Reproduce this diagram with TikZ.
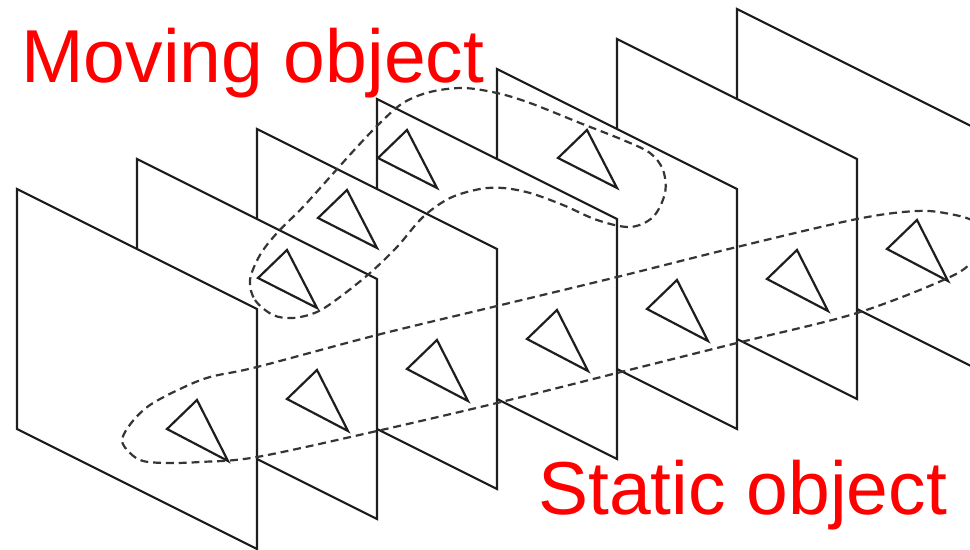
\documentclass[tikz,border=0pt]{standalone}
\usepackage{fontspec}
\setmainfont{Liberation Sans}
\usetikzlibrary{positioning}
\definecolor{objred}{RGB}{255, 0, 0}
\definecolor{inkgray}{RGB}{30, 30, 30}

\begin{document}
\begin{tikzpicture}[x=0.02cm, y=-0.02cm,
    frame/.style={draw=inkgray, line width=1.25pt, fill=white},
    tri/.style={draw=inkgray, line width=1.25pt},
    track/.style={draw=inkgray!90, line width=1.25pt, dash pattern=on 4.5pt off 2.8pt},
    objtext/.style={text=objred, font=\fontsize{42.7}{48}\selectfont, inner sep=0pt, anchor=base west}]
  \useasboundingbox (0,0) rectangle (970,550);
  \clip (0,0) rectangle (970,550);
  % frames, back to front
  \foreach \k in {6,...,0} {
    \draw[frame] ({17+120*\k},{189-30*\k}) -- ++(240,120) -- ++(0,240) -- ++(-240,-120) -- cycle;
  }
  % static object, one per frame
  \foreach \k in {0,...,6} {
    \draw[tri] ({167+120*\k},{429-30*\k}) -- ++(30,-29) -- ++(31,61) -- cycle;
  }
  % moving object
  \foreach \mx/\my in {258/278, 318/218, 378/158, 558/158} {
    \draw[tri] (\mx,\my) -- ++(29,-28) -- ++(30,58) -- cycle;
  }
  % groupings
  \draw[track] plot[smooth cycle, tension=0.55] coordinates {
    (250,280) (255,300) (273,315) (293,318) (317,312) (340,297) (370,273)
    (397,247) (423,217) (450,198) (480,189) (503,188) (530,193) (563,205)
    (597,220) (630,227) (653,217) (665,193) (663,170) (650,153) (623,140)
    (580,123) (530,103) (497,93) (463,88) (430,92) (403,103) (380,123)
    (357,147) (330,177) (303,207) (277,233) (260,255)};
  \draw[track] plot[smooth cycle, tension=0.55] coordinates {
    (122,440) (130,453) (143,461) (167,463) (200,462) (257,457) (377,431)
    (497,403) (617,373) (737,343) (857,313) (950,277) (975,258) (985,240)
    (975,222) (950,214) (917,211) (857,219) (737,247) (617,277) (497,306)
    (377,335) (257,367) (210,377) (180,389) (150,405) (132,422)};
  \node[objtext] (moving) at (21,83) {Moving object};
  \node[objtext] (static) at (538,514) {Static object};
\end{tikzpicture}
\end{document}
